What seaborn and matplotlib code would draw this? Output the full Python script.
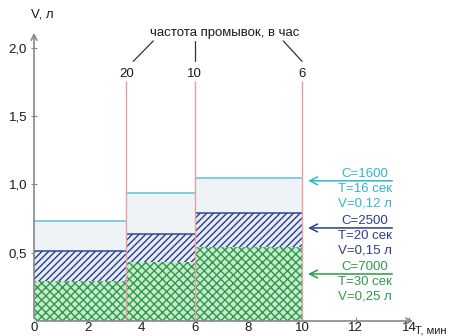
import numpy as np
import pandas as pd
import seaborn as sns
import matplotlib.pyplot as plt

# границы интервалов (мин) и частота промывок
edges = [0, 3.45, 6, 10]
freq_labels = ['20', '10', '6']

# верхние границы слоёв, л
green_top = [0.29, 0.43, 0.54]
blue_top = [0.51, 0.64, 0.79]
cyan_top = [0.73, 0.94, 1.05]

x_ticks = [0, 2, 4, 6, 8, 10, 12, 14]
y_ticks = [0.5, 1.0, 1.5, 2.0]
y_tick_labels = ['0,5', '1,0', '1,5', '2,0']

legend_blocks = [
    ['С=1600', 'Т=16 сек', 'V=0,12 л'],
    ['С=2500', 'Т=20 сек', 'V=0,15 л'],
    ['С=7000', 'Т=30 сек', 'V=0,25 л'],
]

sns.set_style('white')
plt.rcParams['font.family'] = ['Liberation Sans', 'DejaVu Sans']
plt.rcParams['hatch.linewidth'] = 1.0

fs = 9.5
txt_c = '#1a1a1a'

fig = plt.figure(figsize=(4.54, 3.36), dpi=100)
ax = fig.add_axes([34 / 454, 15 / 336, 382 / 454, 291 / 336])

mids = [(a + b) / 2 for a, b in zip(edges[:-1], edges[1:])]
df = pd.DataFrame({'x': mids, 'green': green_top, 'blue': blue_top, 'cyan': cyan_top})

layers = [
    ('cyan', '#eef3f8', '#e2eaf2', None),
    ('blue', '#e6ecf6', '#2c3e8a', '/////'),
    ('green', '#c8eacf', '#2f9a4a', 'xxxx'),
]
for col, fc, hc, hatch in layers:
    sns.histplot(data=df, x='x', weights=col, bins=edges, ax=ax,
                 color=fc, edgecolor=hc, hatch=hatch, linewidth=0, alpha=1)

# линии верхних границ
ax.hlines(cyan_top, edges[:-1], edges[1:], color='#5cc4d4', lw=1.1)
ax.hlines(blue_top, edges[:-1], edges[1:], color='#34448e', lw=1.1)

# красные вертикальные линии
ax.vlines(edges[1:], 0, 1.76, color='#eaa0a0', lw=1.0)

ax.set_xlim(0, 14.25)
ax.set_ylim(0, 2.13)
ax.set_xlabel('')
ax.set_ylabel('')
ax.set_xticks(x_ticks)
ax.set_xticklabels([str(t) for t in x_ticks])
ax.set_yticks(y_ticks)
ax.set_yticklabels(y_tick_labels)
ax.tick_params(axis='x', direction='in', length=3, width=0.8, color='#888888',
               labelsize=fs, labelcolor=txt_c, pad=1, bottom=True)
ax.tick_params(axis='y', direction='inout', length=4, width=0.8, color='#888888',
               labelsize=fs, labelcolor=txt_c, pad=3, left=True)

for s in ['top', 'right', 'left', 'bottom']:
    ax.spines[s].set_visible(False)

# оси со стрелками
ax.annotate('', xy=(0, 1.0), xytext=(0, 0), xycoords='axes fraction',
            arrowprops=dict(arrowstyle='->', color='#888888', lw=1.2), annotation_clip=False)
ax.annotate('', xy=(1.0, 0), xytext=(0, 0), xycoords='axes fraction',
            arrowprops=dict(arrowstyle='->', color='#888888', lw=1.2), annotation_clip=False)

ax.text(-0.1, 2.2, 'V, л', fontsize=fs, color=txt_c, ha='left', va='bottom', clip_on=False)
ax.text(14.22, -0.035, 'Т, мин', fontsize=8, color=txt_c, ha='left', va='top', clip_on=False)

# частота промывок
ax.text(7.13, 2.11, 'частота промывок, в час', fontsize=fs, color=txt_c,
        ha='center', va='center', clip_on=False)
for xe, lab in zip(edges[1:], freq_labels):
    ax.text(xe, 1.81, lab, fontsize=fs, color=txt_c, ha='center', va='center')
ax.plot([3.7, 4.45], [1.9, 2.05], color='#333333', lw=0.9)
ax.plot([6.0, 6.0], [1.9, 2.05], color='#333333', lw=0.9)
ax.plot([10.0, 9.3], [1.9, 2.05], color='#333333', lw=0.9)

# подписи справа
block_colors = ['#33b5cc', '#2c3e8a', '#2e9a48']
arrow_y = [1.026, 0.681, 0.344]
text_y0 = [1.077, 0.733, 0.396]
for lines, c, ay, ty in zip(legend_blocks, block_colors, arrow_y, text_y0):
    ax.annotate('', xy=(10.12, ay), xytext=(13.47, ay),
                arrowprops=dict(arrowstyle='->', color=c, lw=1.1, mutation_scale=14))
    for i, line in enumerate(lines):
        ax.text(12.35, ty - i * 0.11, line, fontsize=fs, color=c,
                ha='center', va='center', clip_on=False)

fig.savefig('out.png', dpi=100)
